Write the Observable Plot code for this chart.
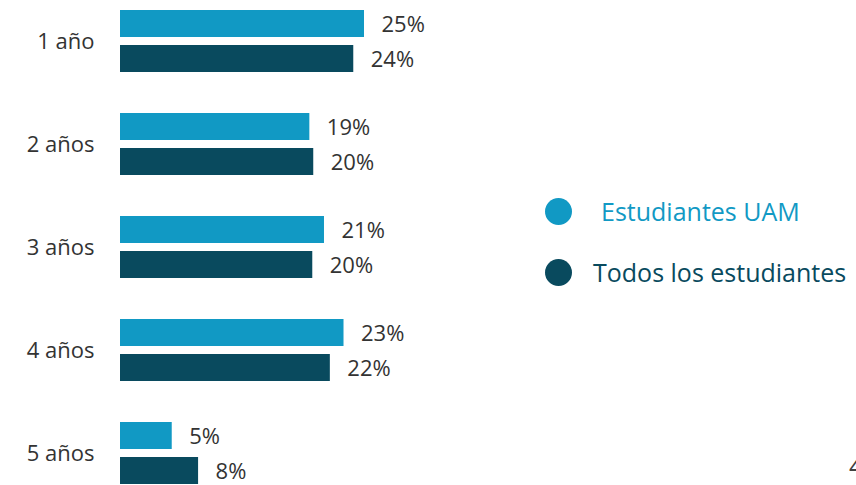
<!DOCTYPE html>
<html>
<head>
<meta charset="utf-8">
<script src="https://cdn.jsdelivr.net/npm/d3@7"></script>
<script src="https://cdn.jsdelivr.net/npm/@observablehq/plot@0.6"></script>
<style>
  html, body { margin: 0; padding: 0; background: #fff; overflow: hidden; }
  #wrap { position: relative; width: 856px; height: 485px; overflow: hidden; font-family: "Open Sans", sans-serif; }
  .leg { position: absolute; display: flex; align-items: center; font-size: 25px; white-space: nowrap; }
  .leg .dot { width: 27px; height: 27px; border-radius: 50%; display: inline-block; }
  #pg { position: absolute; left: 849px; top: 447px; font-size: 26px; color: #404040; }
</style>
</head>
<body>
<div id="wrap"></div>
<script>
const categories = ["1 año", "2 años", "3 años", "4 años", "5 años"];
const seriesNames = ["Estudiantes UAM", "Todos los estudiantes"];
const seriesColors = ["#1199C4", "#094A5E"];
const uamValues = [25.0, 19.4, 20.9, 22.9, 5.3];
const todosValues = [23.9, 19.8, 19.7, 21.5, 8.0];
const uamLabels = ["25%", "19%", "21%", "23%", "5%"];
const todosLabels = ["24%", "20%", "20%", "22%", "8%"];

const data = [];
categories.forEach((c, i) => {
  data.push({cat: c, series: seriesNames[0], value: uamValues[i], label: uamLabels[i]});
  data.push({cat: c, series: seriesNames[1], value: todosValues[i], label: todosLabels[i]});
});

const chart = Plot.plot({
  width: 856,
  height: 485,
  marginLeft: 120,
  marginRight: 492,
  marginTop: 9,
  marginBottom: 0,
  style: {fontFamily: "Open Sans, sans-serif", background: "transparent"},
  x: {domain: [0, 25], axis: null},
  y: {domain: seriesNames, paddingInner: 0.22, paddingOuter: 0, axis: null},
  fy: {domain: categories, range: [8, 486], paddingInner: 0.392, paddingOuter: 0, label: null},
  color: {domain: seriesNames, range: seriesColors},
  marks: [
    Plot.axisFy({anchor: "left", tickSize: 0, tickPadding: 26, fontSize: 22, fill: "#333", label: null}),
    Plot.barX(data, {fy: "cat", y: "series", x: "value", fill: "series"}),
    Plot.text(data, {fy: "cat", y: "series", x: "value", text: "label", dx: 17, dy: 1, textAnchor: "start", fontSize: 22, fill: "#333"})
  ]
});
const wrap = document.getElementById("wrap");
wrap.appendChild(chart);

const legendPos = [{left: 545, top: 194, gap: 29}, {left: 545, top: 255, gap: 21}];
seriesNames.forEach((s, i) => {
  const d = document.createElement("div");
  d.className = "leg";
  d.style.left = legendPos[i].left + "px";
  d.style.top = legendPos[i].top + "px";
  d.style.color = seriesColors[i];
  const dot = document.createElement("span");
  dot.className = "dot";
  dot.style.background = seriesColors[i];
  dot.style.marginRight = legendPos[i].gap + "px";
  const t = document.createElement("span");
  t.textContent = s;
  d.appendChild(dot);
  d.appendChild(t);
  wrap.appendChild(d);
});
const pg = document.createElement("div");
pg.id = "pg";
pg.textContent = "4";
wrap.appendChild(pg);
</script>
</body>
</html>
